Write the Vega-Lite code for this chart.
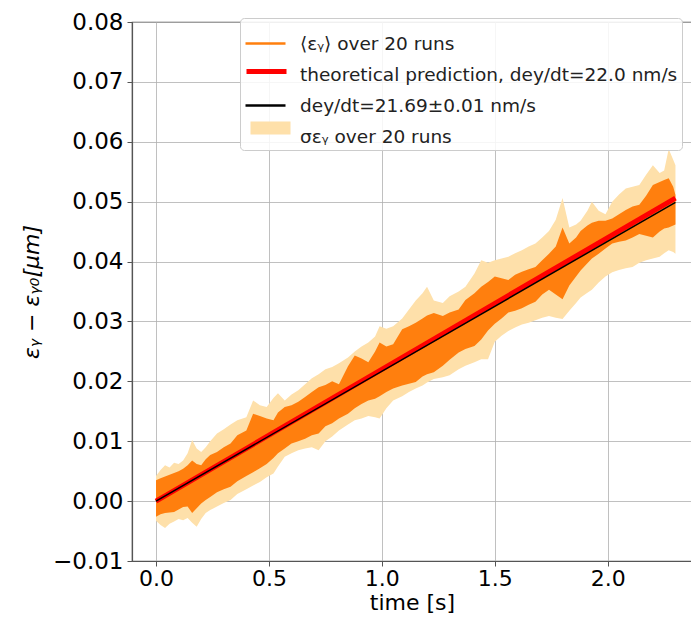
{
  "$schema": "https://vega.github.io/schema/vega-lite/v6.json",
  "width": 560,
  "height": 539,
  "autosize": {"type": "none"},
  "padding": {"left": 132, "top": 22, "right": 0, "bottom": 58},
  "background": "white",
  "config": {
    "font": "DejaVu Sans",
    "view": {"stroke": "#555555", "strokeWidth": 1.2},
    "axis": {
      "labelFont": "DejaVu Sans",
      "titleFont": "DejaVu Sans",
      "labelFontSize": 23,
      "titleFontSize": 22,
      "labelColor": "#000000",
      "titleColor": "#000000",
      "titleFontWeight": "normal",
      "grid": true,
      "gridColor": "#b0b0b0",
      "gridWidth": 0.8,
      "tickSize": 5,
      "tickColor": "#555555",
      "domainColor": "#555555",
      "domainWidth": 1.2,
      "labelFlush": false,
      "labelOverlap": false
    }
  },
  "datasets": {
    "band": [
      {"t": 0.00, "dhi": 0.0035, "dlo": -0.0026, "lhi": 0.0042, "llo": -0.0033},
      {"t": 0.02, "dhi": 0.0038, "dlo": -0.0022, "lhi": 0.0052, "llo": -0.0040},
      {"t": 0.04, "dhi": 0.0041, "dlo": -0.0020, "lhi": 0.0060, "llo": -0.0045},
      {"t": 0.06, "dhi": 0.0044, "dlo": -0.0019, "lhi": 0.0056, "llo": -0.0038},
      {"t": 0.08, "dhi": 0.0047, "dlo": -0.0018, "lhi": 0.0064, "llo": -0.0034},
      {"t": 0.10, "dhi": 0.0050, "dlo": -0.0014, "lhi": 0.0062, "llo": -0.0030},
      {"t": 0.12, "dhi": 0.0054, "dlo": -0.0010, "lhi": 0.0068, "llo": -0.0032},
      {"t": 0.14, "dhi": 0.0060, "dlo": -0.0009, "lhi": 0.0080, "llo": -0.0028},
      {"t": 0.16, "dhi": 0.0068, "dlo": -0.0020, "lhi": 0.0102, "llo": -0.0036},
      {"t": 0.18, "dhi": 0.0062, "dlo": -0.0012, "lhi": 0.0088, "llo": -0.0043},
      {"t": 0.20, "dhi": 0.0060, "dlo": -0.0004, "lhi": 0.0082, "llo": -0.0030},
      {"t": 0.22, "dhi": 0.0070, "dlo": 0.0002, "lhi": 0.0090, "llo": -0.0020},
      {"t": 0.24, "dhi": 0.0077, "dlo": 0.0007, "lhi": 0.0100, "llo": -0.0015},
      {"t": 0.27, "dhi": 0.0082, "dlo": 0.0015, "lhi": 0.0113, "llo": -0.0009},
      {"t": 0.30, "dhi": 0.0090, "dlo": 0.0020, "lhi": 0.0120, "llo": -0.0003},
      {"t": 0.33, "dhi": 0.0096, "dlo": 0.0024, "lhi": 0.0128, "llo": 0.0002},
      {"t": 0.36, "dhi": 0.0110, "dlo": 0.0033, "lhi": 0.0135, "llo": 0.0012},
      {"t": 0.40, "dhi": 0.0118, "dlo": 0.0042, "lhi": 0.0140, "llo": 0.0020},
      {"t": 0.43, "dhi": 0.0146, "dlo": 0.0048, "lhi": 0.0168, "llo": 0.0026},
      {"t": 0.46, "dhi": 0.0142, "dlo": 0.0055, "lhi": 0.0160, "llo": 0.0032},
      {"t": 0.49, "dhi": 0.0138, "dlo": 0.0062, "lhi": 0.0157, "llo": 0.0040},
      {"t": 0.52, "dhi": 0.0135, "dlo": 0.0072, "lhi": 0.0172, "llo": 0.0046},
      {"t": 0.54, "dhi": 0.0148, "dlo": 0.0080, "lhi": 0.0180, "llo": 0.0058},
      {"t": 0.57, "dhi": 0.0157, "dlo": 0.0088, "lhi": 0.0168, "llo": 0.0074},
      {"t": 0.60, "dhi": 0.0160, "dlo": 0.0096, "lhi": 0.0178, "llo": 0.0080},
      {"t": 0.63, "dhi": 0.0166, "dlo": 0.0100, "lhi": 0.0185, "llo": 0.0085},
      {"t": 0.66, "dhi": 0.0174, "dlo": 0.0104, "lhi": 0.0195, "llo": 0.0088},
      {"t": 0.69, "dhi": 0.0182, "dlo": 0.0110, "lhi": 0.0205, "llo": 0.0090},
      {"t": 0.72, "dhi": 0.0190, "dlo": 0.0113, "lhi": 0.0212, "llo": 0.0085},
      {"t": 0.75, "dhi": 0.0194, "dlo": 0.0125, "lhi": 0.0220, "llo": 0.0100},
      {"t": 0.78, "dhi": 0.0200, "dlo": 0.0130, "lhi": 0.0224, "llo": 0.0108},
      {"t": 0.81, "dhi": 0.0195, "dlo": 0.0138, "lhi": 0.0230, "llo": 0.0118},
      {"t": 0.85, "dhi": 0.0225, "dlo": 0.0146, "lhi": 0.0240, "llo": 0.0128},
      {"t": 0.88, "dhi": 0.0243, "dlo": 0.0155, "lhi": 0.0250, "llo": 0.0135},
      {"t": 0.91, "dhi": 0.0238, "dlo": 0.0162, "lhi": 0.0258, "llo": 0.0138},
      {"t": 0.94, "dhi": 0.0232, "dlo": 0.0168, "lhi": 0.0265, "llo": 0.0142},
      {"t": 0.97, "dhi": 0.0250, "dlo": 0.0171, "lhi": 0.0275, "llo": 0.0140},
      {"t": 0.99, "dhi": 0.0265, "dlo": 0.0175, "lhi": 0.0292, "llo": 0.0138},
      {"t": 1.02, "dhi": 0.0258, "dlo": 0.0182, "lhi": 0.0288, "llo": 0.0155},
      {"t": 1.05, "dhi": 0.0262, "dlo": 0.0188, "lhi": 0.0292, "llo": 0.0168},
      {"t": 1.09, "dhi": 0.0287, "dlo": 0.0193, "lhi": 0.0305, "llo": 0.0175},
      {"t": 1.12, "dhi": 0.0292, "dlo": 0.0196, "lhi": 0.0320, "llo": 0.0182},
      {"t": 1.15, "dhi": 0.0298, "dlo": 0.0199, "lhi": 0.0335, "llo": 0.0188},
      {"t": 1.18, "dhi": 0.0305, "dlo": 0.0208, "lhi": 0.0347, "llo": 0.0193},
      {"t": 1.20, "dhi": 0.0310, "dlo": 0.0212, "lhi": 0.0358, "llo": 0.0198},
      {"t": 1.23, "dhi": 0.0314, "dlo": 0.0215, "lhi": 0.0335, "llo": 0.0204},
      {"t": 1.27, "dhi": 0.0309, "dlo": 0.0226, "lhi": 0.0331, "llo": 0.0207},
      {"t": 1.30, "dhi": 0.0315, "dlo": 0.0236, "lhi": 0.0342, "llo": 0.0210},
      {"t": 1.34, "dhi": 0.0320, "dlo": 0.0248, "lhi": 0.0350, "llo": 0.0220},
      {"t": 1.37, "dhi": 0.0336, "dlo": 0.0254, "lhi": 0.0358, "llo": 0.0226},
      {"t": 1.41, "dhi": 0.0347, "dlo": 0.0259, "lhi": 0.0380, "llo": 0.0232},
      {"t": 1.44, "dhi": 0.0358, "dlo": 0.0270, "lhi": 0.0402, "llo": 0.0237},
      {"t": 1.47, "dhi": 0.0366, "dlo": 0.0285, "lhi": 0.0398, "llo": 0.0237},
      {"t": 1.50, "dhi": 0.0375, "dlo": 0.0296, "lhi": 0.0402, "llo": 0.0266},
      {"t": 1.53, "dhi": 0.0372, "dlo": 0.0305, "lhi": 0.0405, "llo": 0.0276},
      {"t": 1.56, "dhi": 0.0369, "dlo": 0.0315, "lhi": 0.0408, "llo": 0.0284},
      {"t": 1.59, "dhi": 0.0378, "dlo": 0.0318, "lhi": 0.0414, "llo": 0.0290},
      {"t": 1.62, "dhi": 0.0383, "dlo": 0.0322, "lhi": 0.0419, "llo": 0.0295},
      {"t": 1.65, "dhi": 0.0387, "dlo": 0.0328, "lhi": 0.0425, "llo": 0.0298},
      {"t": 1.68, "dhi": 0.0391, "dlo": 0.0333, "lhi": 0.0430, "llo": 0.0302},
      {"t": 1.71, "dhi": 0.0402, "dlo": 0.0345, "lhi": 0.0440, "llo": 0.0306},
      {"t": 1.74, "dhi": 0.0413, "dlo": 0.0353, "lhi": 0.0451, "llo": 0.0309},
      {"t": 1.77, "dhi": 0.0425, "dlo": 0.0345, "lhi": 0.0470, "llo": 0.0306},
      {"t": 1.80, "dhi": 0.0457, "dlo": 0.0337, "lhi": 0.0506, "llo": 0.0304},
      {"t": 1.83, "dhi": 0.0430, "dlo": 0.0360, "lhi": 0.0457, "llo": 0.0318},
      {"t": 1.86, "dhi": 0.0440, "dlo": 0.0375, "lhi": 0.0462, "llo": 0.0331},
      {"t": 1.88, "dhi": 0.0451, "dlo": 0.0385, "lhi": 0.0468, "llo": 0.0340},
      {"t": 1.91, "dhi": 0.0460, "dlo": 0.0397, "lhi": 0.0485, "llo": 0.0348},
      {"t": 1.93, "dhi": 0.0465, "dlo": 0.0405, "lhi": 0.0500, "llo": 0.0353},
      {"t": 1.96, "dhi": 0.0468, "dlo": 0.0413, "lhi": 0.0485, "llo": 0.0365},
      {"t": 1.99, "dhi": 0.0468, "dlo": 0.0422, "lhi": 0.0479, "llo": 0.0375},
      {"t": 2.02, "dhi": 0.0472, "dlo": 0.0430, "lhi": 0.0500, "llo": 0.0382},
      {"t": 2.05, "dhi": 0.0479, "dlo": 0.0433, "lhi": 0.0512, "llo": 0.0386},
      {"t": 2.08, "dhi": 0.0486, "dlo": 0.0435, "lhi": 0.0522, "llo": 0.0389},
      {"t": 2.11, "dhi": 0.0492, "dlo": 0.0440, "lhi": 0.0525, "llo": 0.0391},
      {"t": 2.14, "dhi": 0.0495, "dlo": 0.0446, "lhi": 0.0528, "llo": 0.0398},
      {"t": 2.17, "dhi": 0.0510, "dlo": 0.0443, "lhi": 0.0545, "llo": 0.0402},
      {"t": 2.20, "dhi": 0.0528, "dlo": 0.0440, "lhi": 0.0561, "llo": 0.0405},
      {"t": 2.23, "dhi": 0.0533, "dlo": 0.0450, "lhi": 0.0548, "llo": 0.0408},
      {"t": 2.25, "dhi": 0.0536, "dlo": 0.0455, "lhi": 0.0552, "llo": 0.0414},
      {"t": 2.27, "dhi": 0.0539, "dlo": 0.0457, "lhi": 0.0588, "llo": 0.0419},
      {"t": 2.29, "dhi": 0.0525, "dlo": 0.0460, "lhi": 0.0570, "llo": 0.0416},
      {"t": 2.30, "dhi": 0.0511, "dlo": 0.0462, "lhi": 0.0561, "llo": 0.0413}
    ],
    "theory": [
      {"t": 0.0, "y": 0.0},
      {"t": 2.3, "y": 0.0506}
    ],
    "fit": [
      {"t": 0.0, "y": 0.0},
      {"t": 2.3, "y": 0.049887}
    ]
  },
  "layer": [
    {
      "data": {"name": "band"},
      "mark": {"type": "area", "opacity": 1, "clip": true},
      "encoding": {
        "x": {
          "field": "t", "type": "quantitative",
          "scale": {"domain": [-0.1063, 2.3732], "nice": false, "zero": false},
          "axis": {"title": "time [s]", "values": [0, 0.5, 1, 1.5, 2], "format": ".1f", "labelFontSize": 22, "labelPadding": 2, "titlePadding": 3}
        },
        "y": {
          "field": "llo", "type": "quantitative",
          "scale": {"domain": [-0.01, 0.08], "nice": false, "zero": false},
          "axis": {"title": "εᵧ − εᵧ₀[μm]", "titleFontSize": 22, "titleFontStyle": "italic", "values": [-0.01, 0, 0.01, 0.02, 0.03, 0.04, 0.05, 0.06, 0.07, 0.08], "format": ".2f", "labelPadding": 4, "titlePadding": 9}
        },
        "y2": {"field": "lhi"},
        "fill": {
          "datum": "σεᵧ over 20 runs", "type": "nominal",
          "scale": {"domain": ["σεᵧ over 20 runs"], "range": ["#fee0aa"]},
          "legend": {
            "orient": "none", "legendX": 108, "legendY": 75.5, "title": null, "zindex": 3,
            "symbolType": "stroke", "symbolSize": 1600, "symbolStrokeWidth": 13,
            "symbolStrokeColor": "#fee0aa", "symbolFillColor": "#fee0aa",
            "labelFont": "DejaVu Sans", "labelFontSize": 18.5, "labelOpacity": 0,
            "labelOffset": 13, "rowPadding": 0, "padding": 4, "labelLimit": 500
          }
        }
      }
    },
    {
      "data": {"name": "band"},
      "mark": {"type": "area", "fill": "#ff7f0e", "opacity": 1, "clip": true},
      "encoding": {
        "x": {"field": "t", "type": "quantitative"},
        "y": {"field": "dlo", "type": "quantitative"},
        "y2": {"field": "dhi"}
      }
    },
    {
      "data": {"name": "theory"},
      "mark": {"type": "line", "stroke": "#ff0000", "clip": true},
      "encoding": {
        "x": {"field": "t", "type": "quantitative"},
        "y": {"field": "y", "type": "quantitative"},
        "strokeWidth": {
          "datum": "theoretical prediction, dey/dt=22.0 nm/s", "type": "nominal",
          "scale": {"type": "ordinal", "domain": ["theoretical prediction, dey/dt=22.0 nm/s"], "range": [5]},
          "legend": {
            "orient": "none", "legendX": 108, "legendY": 23, "title": null, "zindex": 3,
            "symbolType": "stroke", "symbolSize": 1600, "symbolStrokeColor": "#ff0000",
            "labelFont": "DejaVu Sans", "labelFontSize": 18.5, "labelOpacity": 0,
            "labelOffset": 13, "rowPadding": 0, "padding": 4, "labelLimit": 500
          }
        }
      }
    },
    {
      "data": {"name": "fit"},
      "mark": {"type": "line", "strokeWidth": 1.5, "clip": true},
      "encoding": {
        "x": {"field": "t", "type": "quantitative"},
        "y": {"field": "y", "type": "quantitative"},
        "stroke": {
          "datum": "dey/dt=21.69±0.01 nm/s", "type": "nominal",
          "scale": {
            "domain": ["⟨εᵧ⟩ over 20 runs", "theoretical prediction, dey/dt=22.0 nm/s", "dey/dt=21.69±0.01 nm/s", "σεᵧ over 20 runs"],
            "range": ["#ff7f0e", "transparent", "#000000", "transparent"]
          },
          "legend": {
            "orient": "none", "legendX": 108, "legendY": -4, "title": null, "zindex": 1,
            "symbolType": "stroke", "symbolSize": 1600, "symbolStrokeWidth": 2.5,
            "labelFont": "DejaVu Sans", "labelFontSize": 18.5, "labelColor": "#222222",
            "labelOffset": 13, "rowPadding": -3.2, "padding": 4,
            "strokeColor": "#cccccc", "fillColor": "rgba(255,255,255,0.85)", "cornerRadius": 4,
            "labelLimit": 500
          }
        }
      }
    }
  ]
}
